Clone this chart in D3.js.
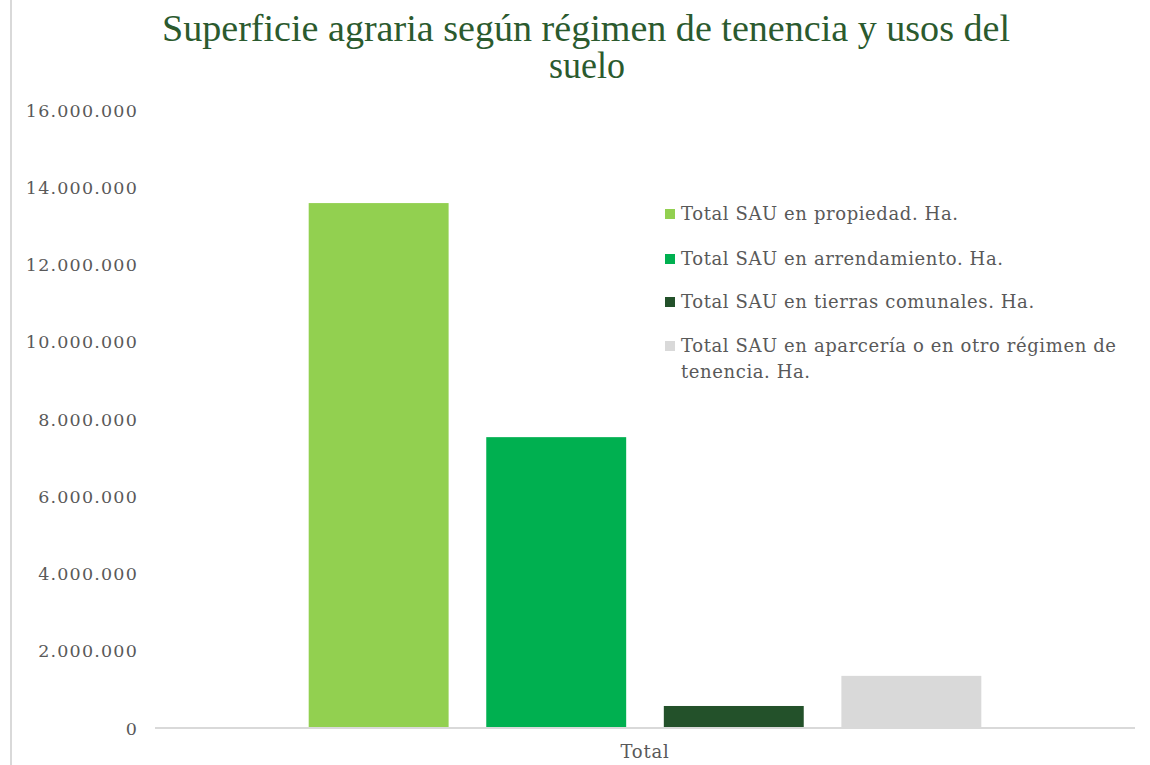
<!DOCTYPE html>
<head>
  <meta charset="utf-8">
  <script src="https://d3js.org/d3.v7.min.js"></script>
  <style>
    body { margin:0; background:white; }
    .title { fill:#2b5a2e; font-family:'Liberation Serif', serif; font-size:37px; }
    .tick text { fill:#595959; font-family:'DejaVu Serif', serif; font-size:17.5px; letter-spacing:1.2px; }
    .catLabel { fill:#595959; font-family:'DejaVu Serif', serif; font-size:18px; letter-spacing:0.8px; }
    .legendText { fill:#595959; font-family:'DejaVu Serif', serif; font-size:18px; letter-spacing:0.6px; }
  </style>
</head>
<body>
<script>
  // chart values
  const categories = ['Total'];
  const seriesNames = [
    'Total SAU en propiedad. Ha.',
    'Total SAU en arrendamiento. Ha.',
    'Total SAU en tierras comunales. Ha.',
    'Total SAU en aparcería o en otro régimen de tenencia. Ha.'
  ];
  const seriesValues = [13590000, 7530000, 570000, 1350000];
  const seriesColors = ['#92d050', '#00b050', '#23512a', '#d9d9d9'];
  const yTicks = [0, 2e6, 4e6, 6e6, 8e6, 10e6, 12e6, 14e6, 16e6];
  // legend labels wrapped as in the original
  const legendLines = [
    ['Total SAU en propiedad. Ha.'],
    ['Total SAU en arrendamiento. Ha.'],
    ['Total SAU en tierras comunales. Ha.'],
    ['Total SAU en aparcería o en otro régimen de', 'tenencia. Ha.']
  ];

  const width = 1150, height = 765;
  const svg = d3.select('body').append('svg')
    .attr('width', width).attr('height', height);

  // left border of the chart area
  svg.append('line')
    .attr('x1', 11).attr('x2', 11).attr('y1', 0).attr('y2', height)
    .style('stroke', '#d9d9d9').style('stroke-width', 2);

  const es = d3.formatLocale({decimal: ',', thousands: '.', grouping: [3], currency: ['', '€']});
  const fmt = es.format(',d');

  const y = d3.scaleLinear().domain([0, 16e6]).range([728, 110]);
  const x0 = d3.scaleBand().domain(categories).range([155, 1135]).padding(0.186);
  const x1 = d3.scaleBand().domain(seriesNames).range([0, x0.bandwidth()]).paddingInner(0.212).paddingOuter(0);

  // y axis labels only
  const yAxis = svg.append('g')
    .attr('transform', 'translate(155,0)')
    .call(d3.axisLeft(y).tickValues(yTicks).tickFormat(fmt).tickSize(0).tickPadding(17));
  yAxis.select('.domain').remove();
  yAxis.selectAll('.tick text').attr('dy', '0.35em');

  // bars
  const groups = svg.append('g')
    .selectAll('g')
    .data(categories)
    .enter().append('g')
    .attr('transform', d => `translate(${x0(d)},0)`);

  groups.selectAll('rect')
    .data(() => seriesNames.map((s, i) => ({name: s, value: seriesValues[i], color: seriesColors[i]})))
    .enter().append('rect')
    .attr('x', d => x1(d.name))
    .attr('width', x1.bandwidth())
    .attr('y', d => y(d.value))
    .attr('height', d => y(0) - y(d.value))
    .style('fill', d => d.color);

  // x axis line and category label
  svg.append('line')
    .attr('x1', 155).attr('x2', 1135).attr('y1', y(0)).attr('y2', y(0))
    .style('stroke', '#d9d9d9').style('stroke-width', 2);

  svg.selectAll('.catLabel')
    .data(categories)
    .enter().append('text')
    .classed('catLabel', true)
    .attr('x', d => x0(d) + x0.bandwidth() / 2)
    .attr('y', 758)
    .attr('text-anchor', 'middle')
    .text(d => d);

  // title
  const title = svg.append('text').classed('title', true).attr('text-anchor', 'middle');
  title.append('tspan').attr('x', 586).attr('y', 41)
    .attr('textLength', 848).attr('lengthAdjust', 'spacingAndGlyphs')
    .text('Superficie agraria según régimen de tenencia y usos del');
  title.append('tspan').attr('x', 587).attr('y', 78)
    .attr('textLength', 76).attr('lengthAdjust', 'spacingAndGlyphs')
    .text('suelo');

  // legend
  const rowY = [214, 259, 302, 346];
  const legend = svg.append('g').attr('transform', 'translate(665,0)');
  const rows = legend.selectAll('.legendKey')
    .data(legendLines)
    .enter().append('g')
    .classed('legendKey', true)
    .attr('transform', (d, i) => `translate(0,${rowY[i]})`);

  rows.append('rect')
    .attr('x', 0).attr('y', -5)
    .attr('width', 10).attr('height', 10)
    .style('fill', (d, i) => seriesColors[i]);

  rows.each(function(lines) {
    const t = d3.select(this).append('text').classed('legendText', true);
    lines.forEach((l, j) => {
      t.append('tspan').attr('x', 16).attr('y', j * 26).attr('dy', '0.35em').text(l);
    });
  });
</script>
</body>
